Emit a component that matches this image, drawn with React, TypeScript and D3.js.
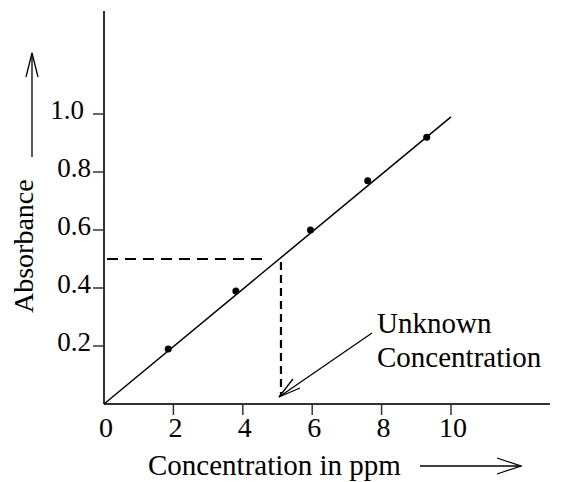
import React from "react";
import * as d3 from "d3";

// calibration data
const concentrations = [1.85, 3.8, 5.95, 7.6, 9.3];
const absorbances = [0.19, 0.39, 0.6, 0.77, 0.92];
const fitLine: [number, number][] = [[0, 0], [10, 0.99]];
const unknown = { conc: 5.1, abs: 0.5 };
const xTicks = [0, 2, 4, 6, 8, 10];
const yTicks = [0.2, 0.4, 0.6, 0.8, 1.0];
const xTickLabels = ["0", "2", "4", "6", "8", "10"];
const yTickLabels = ["0.2", "0.4", "0.6", "0.8", "1.0"];

export default function App() {
  const width = 561;
  const height = 482;
  const font = "Liberation Serif, DejaVu Serif, Times New Roman, serif";
  const txt = { fontFamily: font };

  const x = d3.scaleLinear().domain([0, 10]).range([104, 451]);
  const y = d3.scaleLinear().domain([0, 1]).range([404, 114]);

  const x0 = x(0);
  const y0 = y(0);
  const xEnd = x(12.85);
  const yTop = y(1.355);

  const line = d3.line<[number, number]>()
    .x(d => x(d[0]))
    .y(d => y(d[1]));

  const ux = x(unknown.conc);
  const uy = y(unknown.abs);

  // annotation arrow: tip sits just above the axis at the unknown concentration
  const tip = [ux - 2, y0 - 7];
  const tail = [372, 333];

  return (
    <svg width={width} height={height} style={{ position: "absolute", left: 0, top: 0, background: "#fff" }}>
      {/* axes */}
      <line x1={x0} y1={y0} x2={xEnd} y2={y0} stroke="#333" strokeWidth={2} />
      <line x1={x0} y1={y0} x2={x0} y2={yTop} stroke="#333" strokeWidth={2} />

      {xTicks.map((t, i) => (
        <g key={"xt" + t}>
          {t !== 0 && <line x1={x(t)} y1={y0} x2={x(t)} y2={y0 + 11} stroke="#333" strokeWidth={1.5} />}
          <text x={x(t) + 2} y={437} textAnchor="middle" style={txt} fontSize={28}>
            {xTickLabels[i]}
          </text>
        </g>
      ))}

      {yTicks.map((t, i) => (
        <g key={"yt" + t}>
          <line x1={x0 - 11} y1={y(t)} x2={x0} y2={y(t)} stroke="#333" strokeWidth={1.5} />
          <text x={x0 - 13 - (t === 1 ? 7 : 0)} y={y(t) + 5} textAnchor="end" style={txt} fontSize={27}>
            {yTickLabels[i]}
          </text>
        </g>
      ))}

      {/* dashed guide lines */}
      <line x1={x0 + 3} y1={uy} x2={ux - 14} y2={uy} stroke="#000" strokeWidth={2} strokeDasharray="11 7" />
      <line x1={ux} y1={uy + 3} x2={ux} y2={y0 - 8} stroke="#000" strokeWidth={2.2} strokeDasharray="8 5" />

      {/* fitted line */}
      <path d={line(fitLine) || ""} fill="none" stroke="#000" strokeWidth={1.5} />

      {/* measured points */}
      {concentrations.map((c, i) => (
        <circle key={"p" + i} cx={x(c)} cy={y(absorbances[i])} r={3.5} fill="#000" />
      ))}

      {/* annotation */}
      <line x1={tail[0]} y1={tail[1]} x2={tip[0]} y2={tip[1]} stroke="#000" strokeWidth={1.3} />
      <polyline
        points={`${tip[0] + 14},${tip[1] - 18} ${tip[0]},${tip[1]} ${tip[0] + 21},${tip[1] - 9}`}
        fill="none" stroke="#000" strokeWidth={1.3}
      />
      <text x={377} y={333} style={txt} fontSize={29}>Unknown</text>
      <text x={377} y={367} style={txt} fontSize={29}>Concentration</text>

      {/* x axis title and arrow */}
      <text x={148} y={475} style={txt} fontSize={29}>Concentration in ppm</text>
      <line x1={420} y1={466} x2={521} y2={466} stroke="#000" strokeWidth={1.3} />
      <polyline points="497,458 521,466 497,474" fill="none" stroke="#000" strokeWidth={1.3} />

      {/* y axis title and arrow */}
      <text transform="translate(33,313) rotate(-90)" style={txt} fontSize={28}>Absorbance</text>
      <line x1={32} y1={157} x2={32} y2={53} stroke="#000" strokeWidth={1.3} />
      <polyline points="26,77 32,53 38,77" fill="none" stroke="#000" strokeWidth={1.3} />
    </svg>
  );
}
